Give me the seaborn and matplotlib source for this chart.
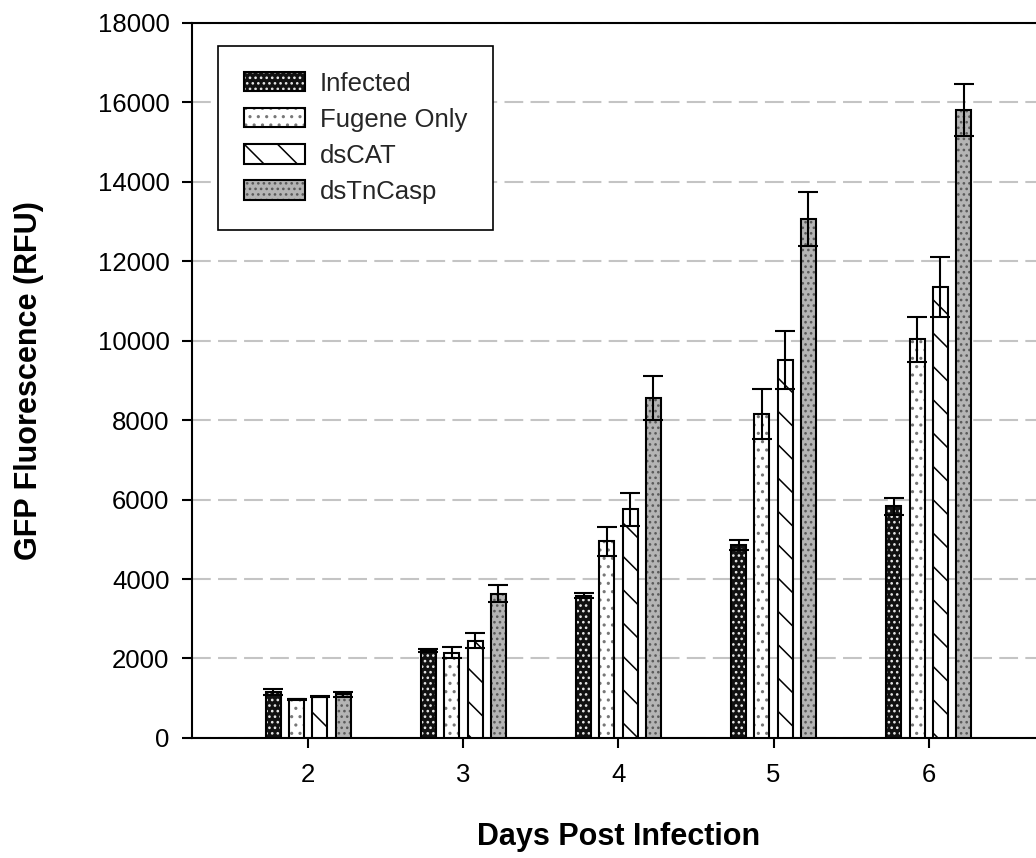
import matplotlib
matplotlib.use("Agg")
import matplotlib.pyplot as plt
import matplotlib.patches as mpatches
from matplotlib.colors import to_rgba
import numpy as np
import pandas as pd
import seaborn as sns

# Days post infection (x categories)
days = ["2", "3", "4", "5", "6"]
groups = ["Infected", "Fugene Only", "dsCAT", "dsTnCasp"]

# Mean GFP fluorescence (RFU) per treatment
infected = [1150, 2200, 3580, 4850, 5830]
fugene_only = [970, 2150, 4950, 8150, 10030]
ds_cat = [1040, 2450, 5750, 9500, 11350]
ds_tncasp = [1100, 3630, 8550, 13050, 15800]

# Error bar half-lengths (RFU)
infected_err = [70, 30, 60, 120, 220]
fugene_only_err = [20, 150, 370, 620, 570]
ds_cat_err = [15, 190, 420, 730, 760]
ds_tncasp_err = [60, 220, 550, 680, 650]

y_ticks = [0, 2000, 4000, 6000, 8000, 10000, 12000, 14000, 16000, 18000]

means = [infected, fugene_only, ds_cat, ds_tncasp]
errs = [infected_err, fugene_only_err, ds_cat_err, ds_tncasp_err]

df = pd.DataFrame({
    "day": np.tile(days, len(groups)),
    "group": np.repeat(groups, len(days)),
    "value": np.concatenate(means),
})

sns.set_theme(style="white")
plt.rcParams["font.family"] = ["Liberation Sans", "DejaVu Sans"]
plt.rcParams["hatch.linewidth"] = 1.1

# face colour, hatch pattern, hatch colour for each treatment
styles = {
    "Infected": ("#111111", "...", "#e8e8e8"),
    "Fugene Only": ("#ffffff", "..", "#777777"),
    "dsCAT": ("#ffffff", "\\", "#000000"),
    "dsTnCasp": ("#b4b4b4", "...", "#5a5a5a"),
}


def set_hatch_color(patch, color):
    if hasattr(patch, "set_hatchcolor"):
        patch.set_hatchcolor(color)
    else:
        patch._hatch_color = to_rgba(color)
        patch.stale = True


fig = plt.figure(figsize=(10.36, 8.58), dpi=100)
ax = fig.add_axes([0.1853, 0.1399, 0.8234, 0.8337])

sns.barplot(data=df, x="day", y="value", hue="group", order=days,
            hue_order=groups, width=0.6, gap=0.355, errorbar=None,
            legend=False, ax=ax, zorder=3)

for container, g, yv, ev in zip(ax.containers, groups, means, errs):
    fc, hatch, hc = styles[g]
    xs = []
    for p in container.patches:
        p.set_facecolor(fc)
        p.set_edgecolor("black")
        p.set_linewidth(1.5)
        p.set_hatch(hatch)
        set_hatch_color(p, hc)
        xs.append(p.get_x() + p.get_width() / 2)
    ax.errorbar(xs, yv, yerr=ev, fmt="none", ecolor="black",
                elinewidth=1.5, capsize=7.2, capthick=1.5, zorder=4)

ax.set_xlim(-0.75, 4.75)
ax.set_ylim(0, 18000)
ax.set_yticks(y_ticks)
ax.set_yticklabels([str(t) for t in y_ticks])

ax.yaxis.grid(True, color="#c4c4c4", linestyle=(0, (9, 3.5)), linewidth=1.5)
ax.xaxis.grid(False)
ax.set_axisbelow(True)

for side in ["left", "bottom", "top", "right"]:
    ax.spines[side].set_visible(True)
    ax.spines[side].set_color("black")
    ax.spines[side].set_linewidth(1.5)

ax.tick_params(axis="both", which="major", direction="out", length=7.2,
               width=1.5, color="black", labelsize=18.5, labelcolor="black",
               left=True, bottom=True)
ax.tick_params(axis="x", pad=11)
ax.tick_params(axis="y", pad=9)

ax.set_xlabel("Days Post Infection", fontsize=22, fontweight="bold",
              color="black")
ax.set_ylabel("GFP Fluorescence (RFU)", fontsize=22, fontweight="bold",
              color="black")
ax.xaxis.set_label_coords(0.5, -0.1174)
ax.yaxis.set_label_coords(-0.174, 0.5)

handles = []
for g in groups:
    fc, hatch, hc = styles[g]
    h = mpatches.Patch(facecolor=fc, edgecolor="black", hatch=hatch,
                       linewidth=1.5, label=g)
    set_hatch_color(h, hc)
    handles.append(h)

leg = ax.legend(handles=handles, loc="upper left",
                bbox_to_anchor=(0.0305, 0.9674), borderaxespad=0,
                fontsize=18.5, frameon=True, fancybox=False,
                handlelength=2.38, handleheight=0.78, handletextpad=0.58,
                labelspacing=0.47, borderpad=1.0)
leg.get_frame().set_edgecolor("black")
leg.get_frame().set_linewidth(1.2)
leg.get_frame().set_facecolor("white")
leg.get_frame().set_alpha(1)

fig.savefig("out.png", dpi=100)
